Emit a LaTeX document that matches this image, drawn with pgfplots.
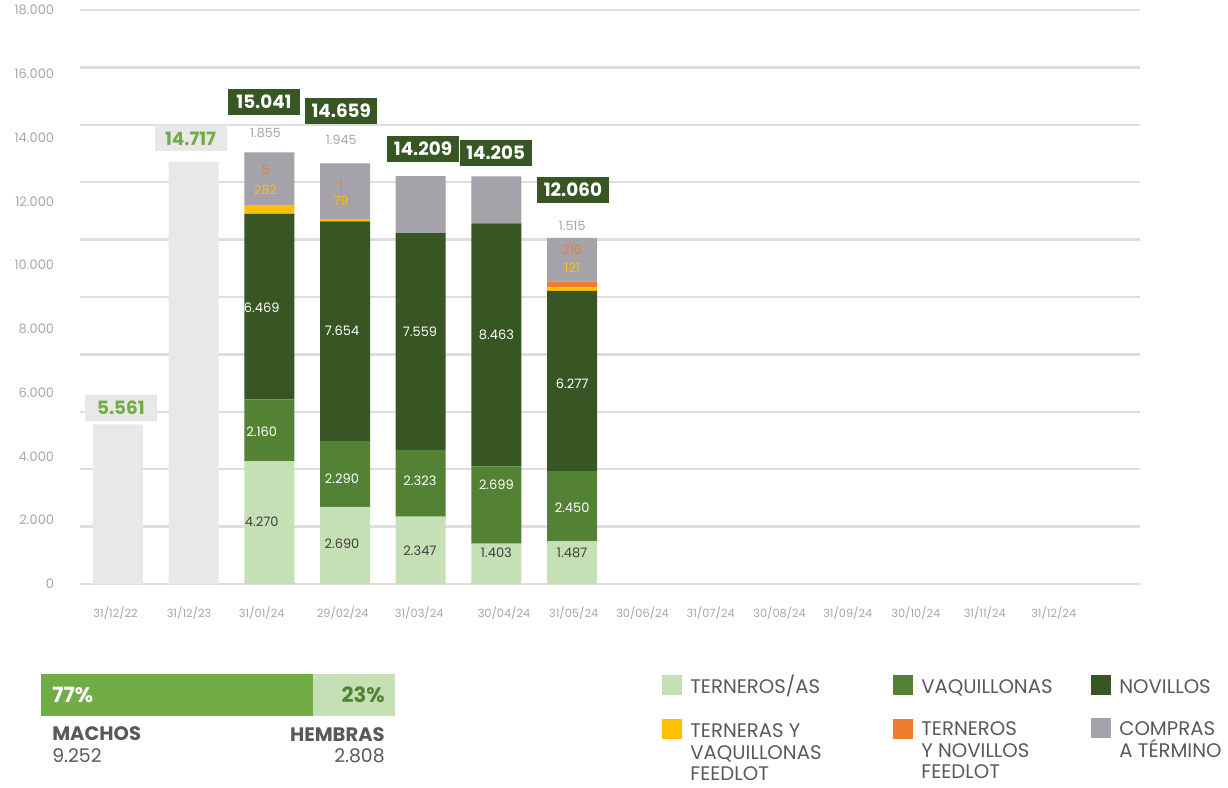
\documentclass[border=0pt]{standalone}
\usepackage{fontspec}
\setmainfont{Poppins}
\usepackage{pgfplots}
\pgfplotsset{compat=1.18}
\definecolor{cT}{HTML}{C5E0B4}
\definecolor{cV}{HTML}{548235}
\definecolor{cN}{HTML}{375623}
\definecolor{cY}{HTML}{FFC000}
\definecolor{cO}{HTML}{ED7D31}
\definecolor{cC}{HTML}{A5A2AA}
\definecolor{cG}{HTML}{E8E8E8}
\definecolor{cGreen}{HTML}{70AD47}
\definecolor{cTxt}{HTML}{595959}
\definecolor{cTick}{HTML}{A6A6A6}
\definecolor{cGrid}{HTML}{DEDEDE}
\definecolor{cSeg}{HTML}{404040}
\tikzset{
  seg/.style={font=\fontsize{7.8}{9}\selectfont, inner sep=0pt},
  sml/.style={font=\fontsize{7.6}{8}\selectfont, inner sep=0pt},
  tot/.style={font=\bfseries\fontsize{11}{12}\selectfont, inner sep=0pt, minimum width=43.2pt, minimum height=15.6pt},
  leg/.style={anchor=base west, inner sep=0pt, text=cTxt, font=\fontsize{11.8}{13}\selectfont},
}
\begin{document}
\begin{tikzpicture}[x=0.6pt,y=0.6pt]
\useasboundingbox (0,0) rectangle (1228,787);
\begin{axis}[at={(48pt,121.8pt)}, anchor=south west, scale only axis,
  width=636pt, height=344.4pt,
  xmin=-0.5, xmax=13.5, ymin=0, ymax=20000,
  ybar stacked, bar width=30pt,
  axis line style={draw=none}, major tick length=0pt, clip=false,
  scaled y ticks=false,
  ytick={0,2222.2,4444.4,6666.7,8888.9,11111.1,13333.3,15555.6,17777.8,20000},
  yticklabels={0,2.000,4.000,6.000,8.000,10.000,12.000,14.000,16.000,18.000},
  yticklabel style={font=\fontsize{7.8}{9}\selectfont, text=cTick, anchor=east, xshift=-12pt},
  xtick={-0.03,0.94,1.90,2.97,3.98,5.10,6.02,6.93,7.83,8.74,9.64,10.54,11.45,12.36},
  xticklabels={31/12/22,31/12/23,31/01/24,29/02/24,31/03/24,30/04/24,31/05/24,30/06/24,31/07/24,30/08/24,31/09/24,30/10/24,31/11/24,31/12/24},
  xticklabel style={font=\fontsize{6.8}{8}\selectfont, text=cTick, yshift=-10pt},
  extra y ticks={0,2000,4000,6000,8000,10000,12000,14000,16000,18000,20000},
  extra y tick labels={},
  extra y tick style={grid=major, major grid style={draw=cGrid, line width=1.5pt}},
]
\addplot[fill=cG, draw=none] coordinates {(0,5561)(1,14717)(2,0)(3,0)(4,0)(5,0)(6,0)};
\addplot[fill=cT, draw=none] coordinates {(0,0)(1,0)(2,4270)(3,2690)(4,2347)(5,1403)(6,1487)};
\addplot[fill=cV, draw=none] coordinates {(0,0)(1,0)(2,2160)(3,2290)(4,2323)(5,2699)(6,2450)};
\addplot[fill=cN, draw=none] coordinates {(0,0)(1,0)(2,6469)(3,7654)(4,7559)(5,8463)(6,6277)};
\addplot[fill=cY, draw=none] coordinates {(0,0)(1,0)(2,282)(3,79)(4,0)(5,0)(6,121)};
\addplot[fill=cO, draw=none] coordinates {(0,0)(1,0)(2,5)(3,1)(4,0)(5,0)(6,210)};
\addplot[fill=cC, draw=none] coordinates {(0,0)(1,0)(2,1855)(3,1945)(4,1980)(5,1640)(6,1515)};
\coordinate (a1) at (axis cs:1.9,2160);
\coordinate (a2) at (axis cs:1.9,5296);
\coordinate (a3) at (axis cs:1.9,9617);
\coordinate (b1) at (axis cs:2.96,1394);
\coordinate (b2) at (axis cs:2.96,3659);
\coordinate (b3) at (axis cs:2.96,8815);
\coordinate (c1) at (axis cs:3.99,1150);
\coordinate (c2) at (axis cs:3.99,3589);
\coordinate (c3) at (axis cs:3.99,8780);
\coordinate (d1) at (axis cs:5.0,1080);
\coordinate (d2) at (axis cs:5.0,3449);
\coordinate (d3) at (axis cs:5.0,8676);
\coordinate (e1) at (axis cs:6.0,1080);
\coordinate (e2) at (axis cs:6.0,2648);
\coordinate (e3) at (axis cs:6.0,6969);
\coordinate (ac) at (axis cs:1.95,15714);
\coordinate (bc) at (axis cs:2.95,15470);
\coordinate (ec) at (axis cs:6.0,12474);
\coordinate (ao) at (axis cs:1.95,14425);
\coordinate (ay) at (axis cs:1.95,13728);
\coordinate (bo) at (axis cs:2.95,13902);
\coordinate (by) at (axis cs:2.95,13345);
\coordinate (eo) at (axis cs:6.0,11638);
\coordinate (ey) at (axis cs:6.0,11010);
\coordinate (t0) at (axis cs:0.04,6132);
\coordinate (t1) at (axis cs:0.96,15523);
\coordinate (t2) at (axis cs:1.93,16794);
\coordinate (t3) at (axis cs:2.95,16481);
\coordinate (t4) at (axis cs:4.03,15157);
\coordinate (t5) at (axis cs:4.99,15017);
\coordinate (t6) at (axis cs:6.01,13728);
\end{axis}
\node[seg, text=cSeg] at (a1) {4.270};
\node[seg, text=white] at (a2) {2.160};
\node[seg, text=white] at (a3) {6.469};
\node[seg, text=cSeg] at (b1) {2.690};
\node[seg, text=white] at (b2) {2.290};
\node[seg, text=white] at (b3) {7.654};
\node[seg, text=cSeg] at (c1) {2.347};
\node[seg, text=white] at (c2) {2.323};
\node[seg, text=white] at (c3) {7.559};
\node[seg, text=cSeg] at (d1) {1.403};
\node[seg, text=white] at (d2) {2.699};
\node[seg, text=white] at (d3) {8.463};
\node[seg, text=cSeg] at (e1) {1.487};
\node[seg, text=white] at (e2) {2.450};
\node[seg, text=white] at (e3) {6.277};
\node[sml, text=cTick] at (ac) {1.855};
\node[sml, text=cTick] at (bc) {1.945};
\node[sml, text=cTick] at (ec) {1.515};
\node[sml, text=cO] at (ao) {5};
\node[sml, text=cY] at (ay) {282};
\node[sml, text=cO] at (bo) {1};
\node[sml, text=cY] at (by) {79};
\node[sml, text=cO] at (eo) {210};
\node[sml, text=cY] at (ey) {121};
\node[tot, fill=cG, text=cGreen] at (t0) {5.561};
\node[tot, fill=cG, text=cGreen] at (t1) {14.717};
\node[tot, fill=cN, text=white] at (t2) {15.041};
\node[tot, fill=cN, text=white] at (t3) {14.659};
\node[tot, fill=cN, text=white] at (t4) {14.209};
\node[tot, fill=cN, text=white] at (t5) {14.205};
\node[tot, fill=cN, text=white] at (t6) {12.060};
\fill[cGreen] (41,71) rectangle (313,113);
\fill[cT] (313,71) rectangle (395,113);
\node[anchor=west, inner sep=0pt, text=white, font=\bfseries\fontsize{12.6}{13}\selectfont] at (52,92) {77\%};
\node[anchor=east, inner sep=0pt, text=cV, font=\bfseries\fontsize{12.6}{13}\selectfont] at (385,92) {23\%};
\node[anchor=base west, inner sep=0pt, text=cTxt, font=\bfseries\fontsize{11.7}{12}\selectfont] at (52,47) {MACHOS};
\node[anchor=base west, inner sep=0pt, text=cTxt, font=\fontsize{11.3}{12}\selectfont] at (52,25) {9.252};
\node[anchor=base east, inner sep=0pt, text=cTxt, font=\bfseries\fontsize{11.7}{12}\selectfont] at (385,46) {HEMBRAS};
\node[anchor=base east, inner sep=0pt, text=cTxt, font=\fontsize{11.3}{12}\selectfont] at (385,25) {2.808};
\fill[cT] (662,92) rectangle (682,112);
\node[leg] at (690,94) {TERNEROS/AS};
\fill[cV] (893,92) rectangle (913,112);
\node[leg] at (921,94) {VAQUILLONAS};
\fill[cN] (1091,92) rectangle (1111,112);
\node[leg] at (1119,94) {NOVILLOS};
\fill[cY] (662,48) rectangle (682,68);
\node[leg] at (690,50) {TERNERAS Y};
\node[leg] at (690,28) {VAQUILLONAS};
\node[leg] at (690,7) {FEEDLOT};
\fill[cO] (893,48) rectangle (913,68);
\node[leg] at (921,52) {TERNEROS};
\node[leg] at (921,30) {Y NOVILLOS};
\node[leg] at (921,9) {FEEDLOT};
\fill[cC] (1091,49) rectangle (1111,69);
\node[leg] at (1119,52) {COMPRAS};
\node[leg] at (1119,30) {A TÉRMINO};
\end{tikzpicture}
\end{document}
